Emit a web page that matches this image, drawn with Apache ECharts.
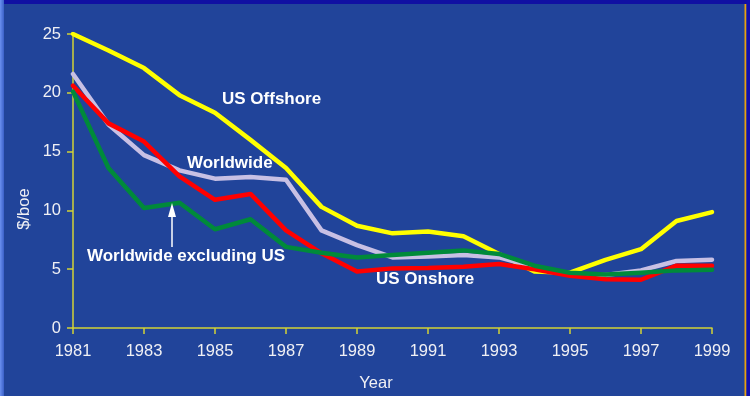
<!DOCTYPE html>
<html>
<head>
<meta charset="utf-8">
<script src="https://cdn.jsdelivr.net/npm/echarts@6/dist/echarts.min.js"></script>
<style>html,body{margin:0;padding:0;background:#21449a;}#c{width:750px;height:396px;}</style>
</head>
<body>
<div id="c"></div>
<script>
var years = ['1981','1982','1983','1984','1985','1986','1987','1988','1989','1990','1991','1992','1993','1994','1995','1996','1997','1998','1999'];
var usOffshore = [25.0,23.6,22.1,19.8,18.3,16.0,13.6,10.3,8.7,8.05,8.2,7.8,6.3,4.8,4.7,5.8,6.7,9.1,9.85];
var worldwide = [21.6,17.3,14.7,13.4,12.7,12.85,12.6,8.3,7.05,6.0,6.07,6.2,6.0,5.2,4.6,4.5,4.9,5.7,5.8];
var usOnshore = [20.6,17.4,15.85,12.9,10.9,11.4,8.3,6.35,4.8,5.07,5.1,5.2,5.45,5.0,4.45,4.15,4.1,5.3,5.3];
var worldwideExUS = [20.1,13.6,10.2,10.65,8.4,9.25,6.9,6.4,6.0,6.2,6.4,6.6,6.3,5.3,4.7,4.55,4.7,4.9,4.95];

var chart = echarts.init(document.getElementById('c'), null, {renderer:'canvas'});
var axisCol = '#d2d236';
var txtCol = '#f0f0f4';
var fam = 'Liberation Sans, Arial, sans-serif';
function ser(name, data, color, z){
  return {name:name, type:'line', data:data, symbol:'none', smooth:false, z:z,
    lineStyle:{color:color, width:4.5, cap:'round', join:'round'}, animation:false};
}
var bold = {fontFamily:fam, fontWeight:'bold', fontSize:17, fill:'#ffffff'};
chart.setOption({
  backgroundColor:'#21449a',
  animation:false,
  grid:{left:73, right:38, top:34, bottom:68, containLabel:false},
  xAxis:{type:'category', data:years, boundaryGap:false,
    axisLine:{lineStyle:{color:axisCol, width:1.5}},
    axisTick:{show:true, interval:1, length:6, lineStyle:{color:axisCol, width:1.5}},
    axisLabel:{interval:1, color:txtCol, fontSize:16.5, margin:15, fontFamily:fam},
    splitLine:{show:false}},
  yAxis:{type:'value', min:0, max:25, interval:5,
    axisLine:{show:true, lineStyle:{color:axisCol, width:1.5}},
    axisTick:{show:true, length:6, lineStyle:{color:axisCol, width:1.5}},
    axisLabel:{color:txtCol, fontSize:16.5, margin:12, fontFamily:fam},
    splitLine:{show:false}},
  series:[
    ser('US Offshore', usOffshore, '#ffff00', 2),
    ser('Worldwide', worldwide, '#c8c0e4', 3),
    ser('US Onshore', usOnshore, '#ff0000', 4),
    ser('Worldwide excluding US', worldwideExUS, '#008a3a', 5)
  ],
  graphic:[
    {type:'rect', shape:{x:0,y:0,width:750,height:4}, style:{fill:'#1010a2'}, z:100},
    {type:'rect', shape:{x:0,y:0,width:4,height:396}, style:{fill:new echarts.graphic.LinearGradient(0,0,1,0,[{offset:0,color:'#6a90f0'},{offset:1,color:'#3a60c8'}])}, z:100},
    {type:'rect', shape:{x:744.5,y:4,width:2,height:392}, style:{fill:'#e8a010'}, z:100},
    {type:'rect', shape:{x:746.5,y:0,width:4,height:396}, style:{fill:'#1010b0'}, z:100},
    {type:'text', left:222, top:91, style:Object.assign({text:'US Offshore'}, bold), z:50},
    {type:'text', left:187, top:155, style:Object.assign({text:'Worldwide'}, bold), z:50},
    {type:'text', left:87, top:248, style:Object.assign({text:'Worldwide excluding US'}, bold), z:50},
    {type:'text', left:376, top:271, style:Object.assign({text:'US Onshore'}, bold), z:50},
    {type:'line', shape:{x1:172,y1:214,x2:172,y2:247}, style:{stroke:'#ffffff', lineWidth:1.5}, z:50},
    {type:'polygon', shape:{points:[[172,203],[168,217],[176,217]]}, style:{fill:'#ffffff'}, z:50},
    {type:'text', x:24, y:209, rotation:Math.PI/2, style:{text:'$/boe', fill:txtCol, fontSize:16.5, fontFamily:fam, align:'center', verticalAlign:'middle'}, z:50},
    {type:'text', x:376, y:383, style:{text:'Year', fill:txtCol, fontSize:16.5, fontFamily:fam, align:'center', verticalAlign:'middle'}, z:50}
  ]
});
</script>
</body>
</html>
